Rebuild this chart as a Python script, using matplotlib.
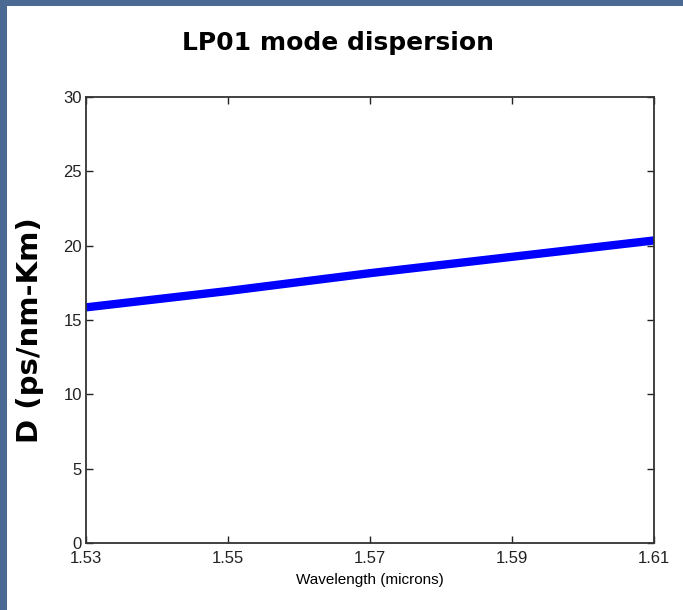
import matplotlib
matplotlib.use("Agg")
import matplotlib.pyplot as plt
from matplotlib.patches import Rectangle

# Dispersion of the LP01 mode versus wavelength
wavelength = [1.53, 1.55, 1.57, 1.59, 1.61]
dispersion = [15.85, 16.95, 18.15, 19.25, 20.35]

x_ticks = [1.53, 1.55, 1.57, 1.59, 1.61]
x_tick_labels = ["1.53", "1.55", "1.57", "1.59", "1.61"]
y_ticks = [0, 5, 10, 15, 20, 25, 30]

W, H = 683, 610
frame_blue = "#4a6a93"
fig = plt.figure(figsize=(W / 100, H / 100), dpi=100)
fig.patch.set_facecolor("white")

# blue slide frame along the top and left edges
fig.patches.append(Rectangle((0, 1 - 6 / H), 1, 6 / H, transform=fig.transFigure,
                             facecolor=frame_blue, edgecolor="none"))
fig.patches.append(Rectangle((0, 0), 7 / W, 1, transform=fig.transFigure,
                             facecolor=frame_blue, edgecolor="none"))

ax = fig.add_axes([86 / W, 1 - 543 / H, (654 - 86) / W, (543 - 97) / H])
ax.plot(wavelength, dispersion, color="#0000ff", linewidth=6,
        solid_capstyle="butt")

ax.set_xlim(1.53, 1.61)
ax.set_ylim(0, 30)
ax.set_xticks(x_ticks)
ax.set_xticklabels(x_tick_labels)
ax.set_yticks(y_ticks)

ax.tick_params(direction="in", length=5, width=1, top=True, right=True,
               labelsize=12, colors="#222222")
ax.tick_params(axis="x", pad=6)
ax.tick_params(axis="y", pad=3)
for lab in ax.get_xticklabels() + ax.get_yticklabels():
    lab.set_family("Liberation Sans")
for sp in ax.spines.values():
    sp.set_color("#333333")
    sp.set_linewidth(1.3)

ax.set_xlabel("Wavelength (microns)", family="Liberation Sans",
              fontsize=11, labelpad=5)

fig.text(338 / W, 1 - 43 / H, "LP01 mode dispersion", ha="center",
         va="center", fontsize=18, fontweight="bold", family="DejaVu Sans")
fig.text(30 / W, 1 - 330 / H, "D (ps/nm-Km)", ha="center", va="center",
         rotation=90, fontsize=21, fontweight="bold", family="DejaVu Sans")

fig.savefig("out.png", dpi=100, facecolor=fig.get_facecolor())
